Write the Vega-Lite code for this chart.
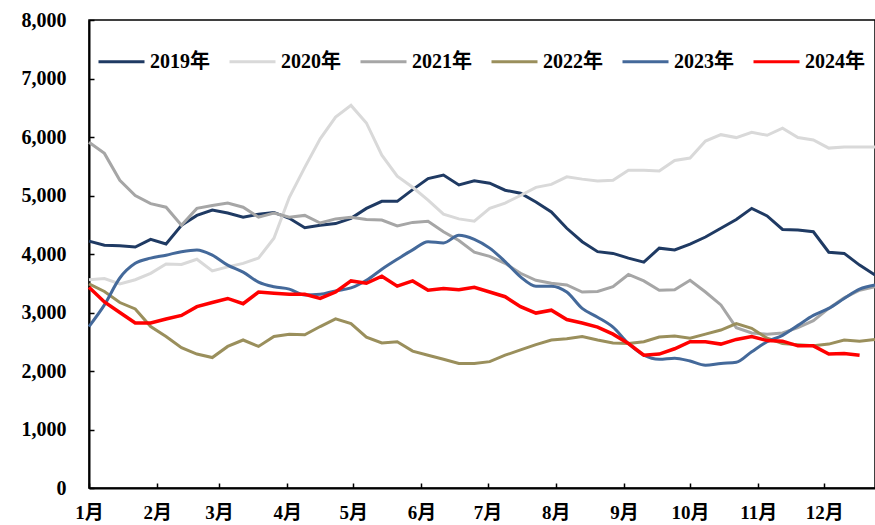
{
  "$schema": "https://vega.github.io/schema/vega-lite/v6.json",
  "width": 786,
  "height": 468,
  "autosize": {"type": "none"},
  "padding": {"left": 89, "top": 20, "right": 0, "bottom": 37},
  "background": "white",
  "config": {
    "view": {"stroke": "black", "strokeWidth": 1.5},
    "font": "Liberation Serif, Noto Sans CJK SC",
    "axis": {
      "grid": false,
      "domainColor": "black",
      "domainWidth": 2,
      "tickColor": "black",
      "tickWidth": 1.5,
      "labelFont": "Liberation Serif, Noto Sans CJK SC",
      "labelFontWeight": "bold",
      "labelColor": "black",
      "title": null
    }
  },
  "data": {
    "values": [
      {"d": 0, "2019年": 4220, "2020年": 3560, "2021年": 5910, "2022年": 3490, "2023年": 2760, "2024年": 3430},
      {"d": 7, "2019年": 4150, "2020年": 3580, "2021年": 5720, "2022年": 3360, "2023年": 3130, "2024年": 3180},
      {"d": 14, "2019年": 4140, "2020年": 3490, "2021年": 5260, "2022年": 3170, "2023年": 3590, "2024年": 3000},
      {"d": 21, "2019年": 4120, "2020年": 3560, "2021年": 5000, "2022年": 3060, "2023年": 3840, "2024年": 2820},
      {"d": 28, "2019年": 4250, "2020年": 3670, "2021年": 4860, "2022年": 2760, "2023年": 3930, "2024年": 2820},
      {"d": 35, "2019年": 4170, "2020年": 3830, "2021年": 4800, "2022年": 2590, "2023年": 3980, "2024年": 2890},
      {"d": 42, "2019年": 4490, "2020年": 3820, "2021年": 4490, "2022年": 2400, "2023年": 4040, "2024年": 2950},
      {"d": 49, "2019年": 4660, "2020年": 3910, "2021年": 4780, "2022年": 2290, "2023年": 4070, "2024年": 3100},
      {"d": 56, "2019年": 4750, "2020年": 3710, "2021年": 4830, "2022年": 2230, "2023年": 3980, "2024年": 3170},
      {"d": 63, "2019年": 4700, "2020年": 3780, "2021年": 4870, "2022年": 2420, "2023年": 3810, "2024年": 3240},
      {"d": 70, "2019年": 4630, "2020年": 3840, "2021年": 4800, "2022年": 2530, "2023年": 3690, "2024年": 3150},
      {"d": 77, "2019年": 4680, "2020年": 3930, "2021年": 4630, "2022年": 2420, "2023年": 3520, "2024年": 3350},
      {"d": 84, "2019年": 4710, "2020年": 4270, "2021年": 4700, "2022年": 2590, "2023年": 3440, "2024年": 3330},
      {"d": 91, "2019年": 4610, "2020年": 4970, "2021年": 4630, "2022年": 2630, "2023年": 3400, "2024年": 3310},
      {"d": 98, "2019年": 4450, "2020年": 5480, "2021年": 4660, "2022年": 2620, "2023年": 3300, "2024年": 3310},
      {"d": 105, "2019年": 4490, "2020年": 5970, "2021年": 4530, "2022年": 2760, "2023年": 3310, "2024年": 3240},
      {"d": 112, "2019年": 4520, "2020年": 6340, "2021年": 4600, "2022年": 2890, "2023年": 3370, "2024年": 3350},
      {"d": 119, "2019年": 4610, "2020年": 6540, "2021年": 4630, "2022年": 2810, "2023年": 3420, "2024年": 3540},
      {"d": 126, "2019年": 4780, "2020年": 6240, "2021年": 4590, "2022年": 2580, "2023年": 3550, "2024年": 3500},
      {"d": 133, "2019年": 4900, "2020年": 5690, "2021年": 4580, "2022年": 2480, "2023年": 3740, "2024年": 3620},
      {"d": 140, "2019年": 4900, "2020年": 5330, "2021年": 4480, "2022年": 2500, "2023年": 3910, "2024年": 3450},
      {"d": 147, "2019年": 5100, "2020年": 5140, "2021年": 4540, "2022年": 2340, "2023年": 4070, "2024年": 3540},
      {"d": 154, "2019年": 5290, "2020年": 4920, "2021年": 4560, "2022年": 2270, "2023年": 4210, "2024年": 3380},
      {"d": 161, "2019年": 5350, "2020年": 4680, "2021年": 4380, "2022年": 2200, "2023年": 4190, "2024年": 3410},
      {"d": 168, "2019年": 5180, "2020年": 4600, "2021年": 4230, "2022年": 2130, "2023年": 4320, "2024年": 3390},
      {"d": 175, "2019年": 5250, "2020年": 4560, "2021年": 4030, "2022年": 2130, "2023年": 4250, "2024年": 3430},
      {"d": 182, "2019年": 5210, "2020年": 4780, "2021年": 3960, "2022年": 2160, "2023年": 4100, "2024年": 3350},
      {"d": 189, "2019年": 5090, "2020年": 4870, "2021年": 3840, "2022年": 2270, "2023年": 3870, "2024年": 3270},
      {"d": 196, "2019年": 5040, "2020年": 5000, "2021年": 3670, "2022年": 2360, "2023年": 3610, "2024年": 3100},
      {"d": 203, "2019年": 4890, "2020年": 5140, "2021年": 3550, "2022年": 2450, "2023年": 3450, "2024年": 2990},
      {"d": 210, "2019年": 4720, "2020年": 5190, "2021年": 3500, "2022年": 2530, "2023年": 3450, "2024年": 3040},
      {"d": 217, "2019年": 4440, "2020年": 5320, "2021年": 3470, "2022年": 2550, "2023年": 3350, "2024年": 2880},
      {"d": 224, "2019年": 4210, "2020年": 5280, "2021年": 3350, "2022年": 2590, "2023年": 3070, "2024年": 2820},
      {"d": 231, "2019年": 4040, "2020年": 5250, "2021年": 3360, "2022年": 2530, "2023年": 2920, "2024年": 2750},
      {"d": 238, "2019年": 4010, "2020年": 5260, "2021年": 3440, "2022年": 2480, "2023年": 2750, "2024年": 2630},
      {"d": 245, "2019年": 3930, "2020年": 5430, "2021年": 3650, "2022年": 2470, "2023年": 2470, "2024年": 2470},
      {"d": 252, "2019年": 3860, "2020年": 5430, "2021年": 3540, "2022年": 2500, "2023年": 2270, "2024年": 2270},
      {"d": 259, "2019年": 4100, "2020年": 5420, "2021年": 3380, "2022年": 2580, "2023年": 2200, "2024年": 2290},
      {"d": 266, "2019年": 4070, "2020年": 5600, "2021年": 3390, "2022年": 2600, "2023年": 2220, "2024年": 2380},
      {"d": 273, "2019年": 4170, "2020年": 5640, "2021年": 3550, "2022年": 2560, "2023年": 2170, "2024年": 2500},
      {"d": 280, "2019年": 4290, "2020年": 5930, "2021年": 3350, "2022年": 2630, "2023年": 2100, "2024年": 2500},
      {"d": 287, "2019年": 4440, "2020年": 6040, "2021年": 3130, "2022年": 2700, "2023年": 2130, "2024年": 2460},
      {"d": 294, "2019年": 4590, "2020年": 5990, "2021年": 2740, "2022年": 2810, "2023年": 2150, "2024年": 2540},
      {"d": 301, "2019年": 4780, "2020年": 6080, "2021年": 2650, "2022年": 2730, "2023年": 2330, "2024年": 2590},
      {"d": 308, "2019年": 4650, "2020年": 6030, "2021年": 2630, "2022年": 2560, "2023年": 2500, "2024年": 2520},
      {"d": 315, "2019年": 4420, "2020年": 6150, "2021年": 2650, "2022年": 2470, "2023年": 2610, "2024年": 2510},
      {"d": 322, "2019年": 4410, "2020年": 5990, "2021年": 2740, "2022年": 2450, "2023年": 2780, "2024年": 2430},
      {"d": 329, "2019年": 4380, "2020年": 5950, "2021年": 2860, "2022年": 2430, "2023年": 2950, "2024年": 2430},
      {"d": 336, "2019年": 4030, "2020年": 5810, "2021年": 3070, "2022年": 2460, "2023年": 3070, "2024年": 2290},
      {"d": 343, "2019年": 4010, "2020年": 5830, "2021年": 3250, "2022年": 2530, "2023年": 3240, "2024年": 2300},
      {"d": 350, "2019年": 3810, "2020年": 5830, "2021年": 3380, "2022年": 2510, "2023年": 3400, "2024年": 2270},
      {"d": 357, "2019年": 3640, "2020年": 5830, "2021年": 3440, "2022年": 2540, "2023年": 3470}
    ]
  },
  "transform": [
    {"fold": ["2019年", "2020年", "2021年", "2022年", "2023年", "2024年"], "as": ["year", "value"]},
    {"filter": "isValid(datum.value)"}
  ],
  "encoding": {
    "x": {
      "field": "d",
      "type": "quantitative",
      "scale": {"domain": [0, 357], "nice": false, "zero": false},
      "axis": {
        "values": [0, 31, 59, 90, 120, 151, 181, 212, 243, 273, 304, 334],
        "labelExpr": "(month(datetime(2019, 0, 1 + datum.value)) + 1) + '月'",
        "labelFontSize": 19,
        "tickSize": -5,
        "labelPadding": 20,
        "labelFlush": false,
        "labelOverlap": false
      }
    },
    "y": {
      "field": "value",
      "type": "quantitative",
      "scale": {"domain": [0, 8000], "nice": false},
      "axis": {
        "values": [0, 1000, 2000, 3000, 4000, 5000, 6000, 7000, 8000],
        "format": ",.0f",
        "labelFontSize": 20,
        "tickSize": -5,
        "labelPadding": 28,
        "labelFlush": false,
        "labelOverlap": false
      }
    },
    "color": {
      "field": "year",
      "type": "nominal",
      "scale": {
        "domain": ["2019年", "2020年", "2021年", "2022年", "2023年", "2024年"],
        "range": ["#1F3A63", "#D9D9D9", "#A6A6A6", "#9A8F5C", "#44699A", "#FF0000"]
      },
      "legend": {
        "title": null,
        "orient": "none",
        "legendX": 8,
        "legendY": 17,
        "direction": "horizontal",
        "columns": 6,
        "columnPadding": 13,
        "padding": 0,
        "symbolType": "stroke",
        "symbolSize": 2116,
        "symbolStrokeWidth": 3,
        "labelOffset": 4,
        "labelFont": "Liberation Serif, Noto Sans CJK SC",
        "labelFontWeight": "bold",
        "labelFontSize": 20,
        "labelColor": "black"
      }
    }
  },
  "layer": [
    {
      "transform": [{"filter": "datum.year != '2023年' && datum.year != '2024年'"}],
      "mark": {"type": "line", "strokeWidth": 3}
    },
    {
      "transform": [{"filter": "datum.year == '2023年'"}],
      "mark": {"type": "line", "strokeWidth": 3, "interpolate": "monotone"}
    },
    {
      "transform": [{"filter": "datum.year == '2024年'"}],
      "mark": {"type": "line", "strokeWidth": 3.5}
    }
  ]
}
